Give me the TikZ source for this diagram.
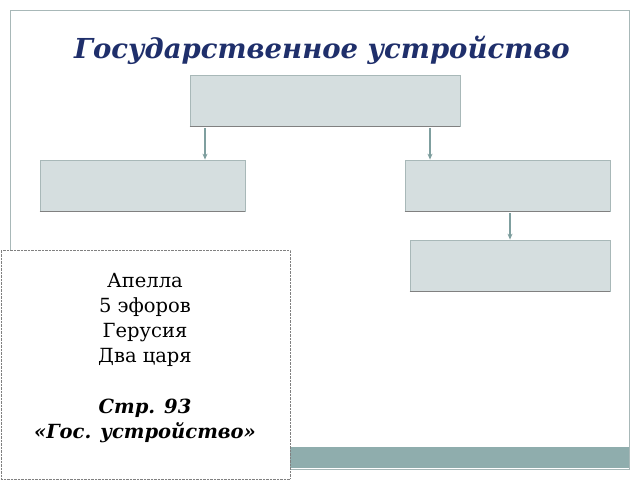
\documentclass[tikz,border=0pt]{standalone}
\usepackage{fontspec}
\setmainfont{DejaVu Serif}
\usetikzlibrary{arrows.meta}
\definecolor{boxfill}{HTML}{D5DEDF}
\definecolor{boxline}{HTML}{A8B8B8}
\definecolor{bar}{HTML}{8FADAD}
\definecolor{arrc}{HTML}{7F9F9F}
\definecolor{titlec}{HTML}{1F2F6B}
\tikzset{
  x=1pt,y=-1pt,
  slot/.style={draw=boxline,fill=boxfill,line width=0.8pt,inner sep=0pt},
  arr/.style={draw=arrc,line width=1.2pt,-{Stealth[length=6pt,width=5pt]}},
}
\begin{document}
\begin{tikzpicture}
\useasboundingbox (0,0) rectangle (640,480);
\fill[white] (0,0) rectangle (640,480);
\draw[boxline,line width=0.8pt] (10,10) rectangle (629,469);
\fill[bar] (10,447) rectangle (629,468);
\node[text=titlec,font=\fontsize{27.5}{31}\selectfont\bfseries\itshape] (title) at (322,50) {Государственное устройство};
\node[slot,minimum width=270pt,minimum height=51pt] (top) at (325,100.5) {};
\node[slot,minimum width=205pt,minimum height=51pt] (left) at (142.5,185.5) {};
\node[slot,minimum width=205pt,minimum height=51pt] (right) at (507.5,185.5) {};
\node[slot,minimum width=200pt,minimum height=51pt] (low) at (510,265.5) {};
\draw[gray,line width=1.8pt] (top.south west) -- (top.south east);
\draw[gray,line width=1.8pt] (left.south west) -- (left.south east);
\draw[gray,line width=1.8pt] (right.south west) -- (right.south east);
\draw[gray,line width=1.8pt] (low.south west) -- (low.south east);
\coordinate (a1) at (205,0);
\coordinate (a2) at (430,0);
\coordinate (a3) at (510,0);
\draw[arr] ([yshift=-2pt]top.south -| a1) -- (left.north -| a1);
\draw[arr] ([yshift=-2pt]top.south -| a2) -- (right.north -| a2);
\draw[arr] ([yshift=-2pt]right.south -| a3) -- (low.north -| a3);
\node[draw=gray,densely dotted,fill=white,minimum width=289pt,minimum height=229pt,inner sep=0pt] (note) at (145.5,364.5) {};
\node[align=center,font=\fontsize{19.5}{25.3}\selectfont] (txt) at (145,358) {Апелла\\5 эфоров\\Герусия\\Два царя\\[25.3pt]{\bfseries\itshape Стр. 93}\\{\bfseries\itshape «Гос. устройство»}};
\end{tikzpicture}
\end{document}
